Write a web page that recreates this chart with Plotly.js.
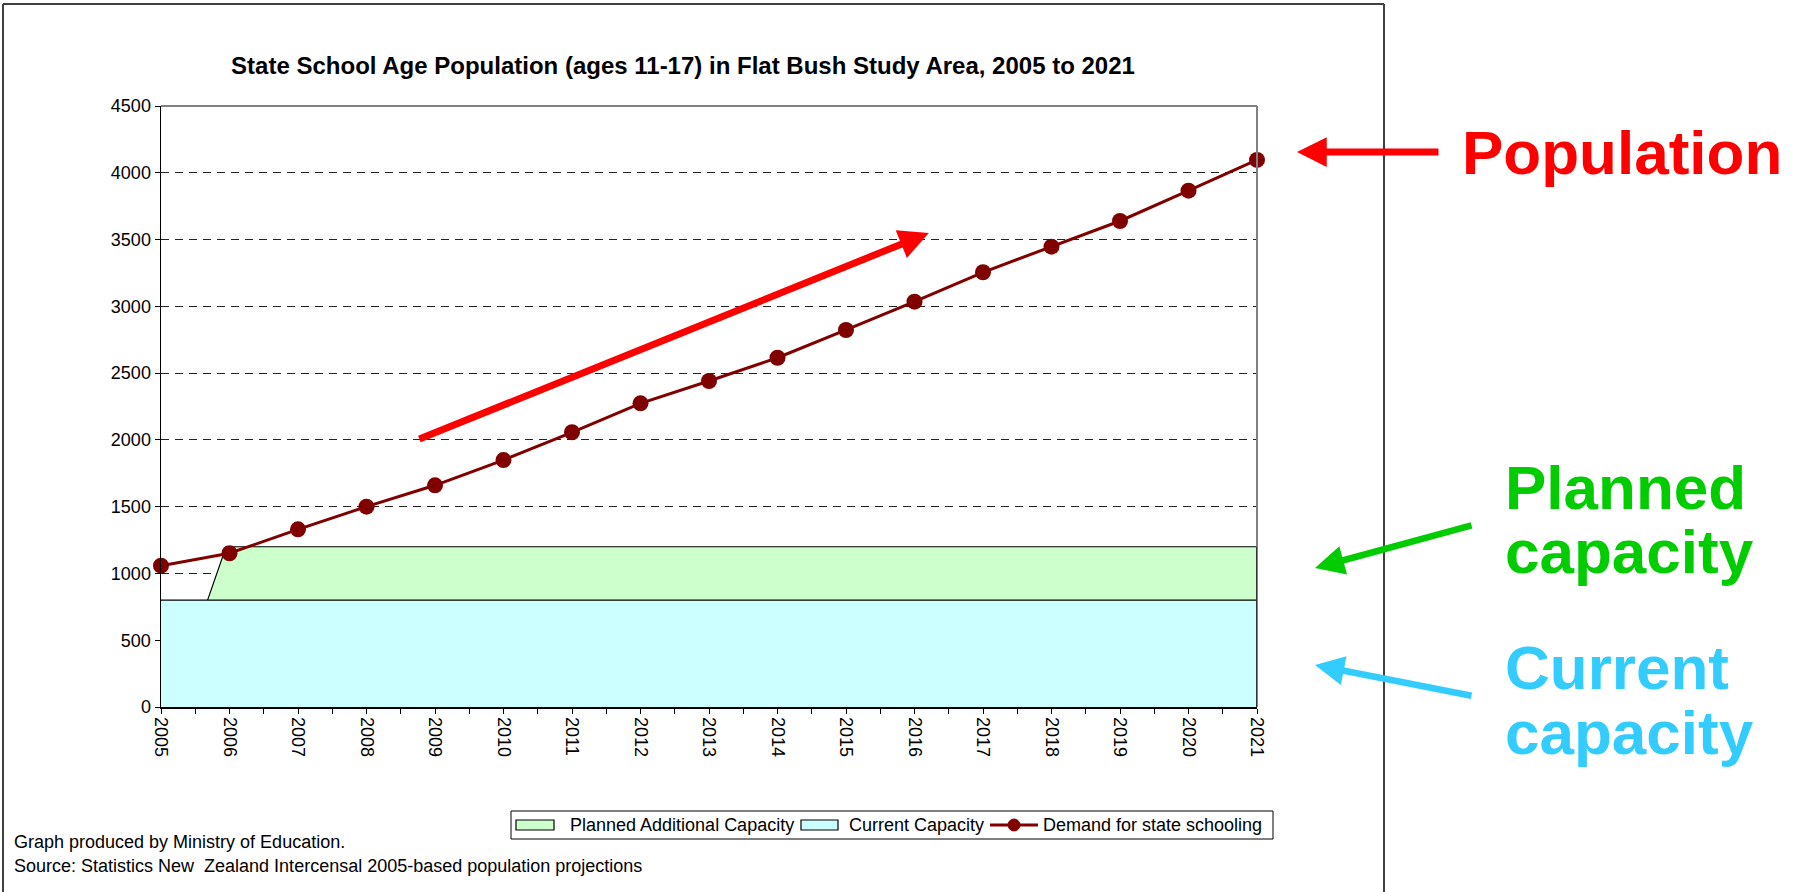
<!DOCTYPE html>
<html>
<head>
<meta charset="utf-8">
<script src="https://cdn.plot.ly/plotly-3.0.1.min.js"></script>
<style>
  html, body { margin: 0; padding: 0; background: #ffffff; }
  #chart { width: 1809px; height: 892px; }
</style>
</head>
<body>
<div id="chart"></div>
<script>
// ---- data ----
const years = [2005, 2006, 2007, 2008, 2009, 2010, 2011, 2012, 2013, 2014, 2015, 2016, 2017, 2018, 2019, 2020, 2021];
const demand = [1058, 1151, 1330, 1500, 1660, 1849, 2057, 2274, 2441, 2615, 2823, 3035, 3255, 3447, 3639, 3866, 4096];
const currentCapacity = [800, 800, 800, 800, 800, 800, 800, 800, 800, 800, 800, 800, 800, 800, 800, 800, 800];
const plannedX = [2005.68, 2005.95, 2021];
const plannedTotal = [800, 1200, 1200];
const trendArrowFrom = [2008.75, 2002];
const trendArrowTo = [2016.21, 3549];
const yTicks = [0, 500, 1000, 1500, 2000, 2500, 3000, 3500, 4000, 4500];

const titleText = 'State School Age Population (ages 11-17) in Flat Bush Study Area, 2005 to 2021';
const seriesNames = ['Planned Additional Capacity', 'Current Capacity', 'Demand for state schooling'];
const footnotes = ['Graph produced by Ministry of Education.',
                   'Source: Statistics New&nbsp; Zealand Intercensal 2005-based population projections'];

const FONT = 'Liberation Sans, Arial, Helvetica, sans-serif';
const COL_PLANNED = '#CCFFCC', COL_CURRENT = '#CCFFFF', COL_DEMAND = '#800000';

const traces = [
  {
    name: seriesNames[1], x: years, y: currentCapacity, type: 'scatter', mode: 'lines',
    fill: 'tozeroy', fillcolor: COL_CURRENT, line: {color: '#000000', width: 1.2},
    showlegend: false, cliponaxis: false
  },
  {
    name: seriesNames[0], x: plannedX, y: plannedTotal, type: 'scatter', mode: 'lines',
    fill: 'tonexty', fillcolor: COL_PLANNED, line: {color: '#000000', width: 1.2},
    showlegend: false, cliponaxis: false
  },
  {
    name: seriesNames[2], x: years, y: demand, type: 'scatter', mode: 'lines+markers',
    line: {color: COL_DEMAND, width: 3}, marker: {color: COL_DEMAND, size: 16},
    showlegend: false, cliponaxis: false
  }
];

// plot area in px: x 161..1257, y 106..707
const L = 161, R = 1257, T = 106, B = 707;
const px2x = (p) => (p - L) / (R - L);
const px2y = (p) => (B - p) / (B - T);

const P = (o) => Object.assign({xref: 'paper', yref: 'paper'}, o);

const shapes = [
  // plot-area border (top & right, gray)
  P({type: 'line', x0: 0, x1: 1, y0: 1, y1: 1, line: {color: '#808080', width: 2}}),
  P({type: 'line', x0: 1, x1: 1, y0: 0, y1: 1, line: {color: '#808080', width: 2}}),
  // right edge of the filled areas
  {type: 'line', xref: 'x', yref: 'y', x0: years[years.length - 1], x1: years[years.length - 1], y0: 0,
   y1: plannedTotal[plannedTotal.length - 1], line: {color: '#000000', width: 1.2}},
  // outer chart frame
  P({type: 'line', x0: px2x(3), x1: px2x(1384), y0: px2y(4), y1: px2y(4), line: {color: '#404040', width: 2}}),
  P({type: 'line', x0: px2x(3), x1: px2x(3), y0: px2y(4), y1: px2y(900), line: {color: '#404040', width: 2}}),
  P({type: 'line', x0: px2x(1384), x1: px2x(1384), y0: px2y(4), y1: px2y(900), line: {color: '#404040', width: 2}}),
  // legend box and symbols
  P({type: 'rect', x0: px2x(511), x1: px2x(1273), y0: px2y(839), y1: px2y(811), line: {color: '#000000', width: 1}, fillcolor: '#FFFFFF'}),
  P({type: 'rect', x0: px2x(516), x1: px2x(554), y0: px2y(830), y1: px2y(820), line: {color: '#000000', width: 1.2}, fillcolor: COL_PLANNED}),
  P({type: 'rect', x0: px2x(801), x1: px2x(838), y0: px2y(830), y1: px2y(820), line: {color: '#000000', width: 1.2}, fillcolor: COL_CURRENT}),
  P({type: 'line', x0: px2x(990), x1: px2x(1038), y0: px2y(825), y1: px2y(825), line: {color: COL_DEMAND, width: 3}}),
  P({type: 'circle', x0: px2x(1008), x1: px2x(1020), y0: px2y(831), y1: px2y(819), line: {color: COL_DEMAND, width: 1}, fillcolor: COL_DEMAND})
];

const bigFont = {family: FONT, size: 62, color: '#FF0000', weight: 'bold'};
const green = '#00CC00', blue = '#33CCFF';
const smallFont = {family: FONT, size: 18, color: '#000000'};

const annotations = [
  // trend arrow inside the plot
  {x: trendArrowTo[0], y: trendArrowTo[1], ax: trendArrowFrom[0], ay: trendArrowFrom[1],
   xref: 'x', yref: 'y', axref: 'x', ayref: 'y', text: '', showarrow: true,
   arrowcolor: '#FF0000', arrowwidth: 7, arrowhead: 2, arrowsize: 0.85, standoff: 0},
  // right-side callout arrows
  P({x: px2x(1297), y: px2y(152), ax: 143, ay: 0, text: '', showarrow: true,
   arrowcolor: '#FF0000', arrowwidth: 7, arrowhead: 2, arrowsize: 0.85, standoff: 0}),
  P({x: px2x(1315), y: px2y(568), ax: 158, ay: -43, text: '', showarrow: true,
   arrowcolor: green, arrowwidth: 6.5, arrowhead: 2, arrowsize: 0.9, standoff: 0}),
  P({x: px2x(1315), y: px2y(665), ax: 158, ay: 31, text: '', showarrow: true,
   arrowcolor: blue, arrowwidth: 6.5, arrowhead: 2, arrowsize: 0.9, standoff: 0}),
  // callout texts
  P({x: px2x(1460), y: px2y(152), text: 'Population', showarrow: false,
   xanchor: 'left', yanchor: 'middle', font: bigFont}),
  P({x: px2x(1503), y: px2y(487), text: 'Planned', showarrow: false, height: 50,
   xanchor: 'left', yanchor: 'middle', font: Object.assign({}, bigFont, {color: green})}),
  P({x: px2x(1503), y: px2y(551), text: 'capacity', showarrow: false,
   xanchor: 'left', yanchor: 'middle', font: Object.assign({}, bigFont, {color: green})}),
  P({x: px2x(1503), y: px2y(667), text: 'Current', showarrow: false, height: 50,
   xanchor: 'left', yanchor: 'middle', font: Object.assign({}, bigFont, {color: blue})}),
  P({x: px2x(1503), y: px2y(732), text: 'capacity', showarrow: false,
   xanchor: 'left', yanchor: 'middle', font: Object.assign({}, bigFont, {color: blue})}),
  // legend texts
  P({x: px2x(568), y: px2y(825), text: seriesNames[0], showarrow: false, xanchor: 'left', yanchor: 'middle', font: smallFont}),
  P({x: px2x(847), y: px2y(825), text: seriesNames[1], showarrow: false, xanchor: 'left', yanchor: 'middle', font: smallFont}),
  P({x: px2x(1041), y: px2y(825), text: seriesNames[2], showarrow: false, xanchor: 'left', yanchor: 'middle', font: smallFont}),
  // footnotes
  P({x: px2x(12), y: px2y(842), text: footnotes[0], showarrow: false,
   xanchor: 'left', yanchor: 'middle', font: smallFont}),
  P({x: px2x(12), y: px2y(866), text: footnotes[1], showarrow: false,
   xanchor: 'left', yanchor: 'middle', font: smallFont})
];

const layout = {
  width: 1809, height: 892,
  margin: {l: L, r: 1809 - R, t: T, b: 892 - B, pad: 0},
  paper_bgcolor: '#FFFFFF', plot_bgcolor: '#FFFFFF',
  font: {family: FONT, size: 18, color: '#000000'},
  title: {
    text: '<b>' + titleText + '</b>',
    font: {family: FONT, size: 24, color: '#000000'},
    xref: 'container', yref: 'container', x: 683 / 1809, xanchor: 'center',
    y: 1 - 66 / 892, yanchor: 'middle'
  },
  xaxis: {
    range: [years[0], years[years.length - 1]], tickmode: 'array', tickvals: years, ticktext: years.map(String),
    tickangle: 90, ticks: 'outside', ticklen: 5, tickcolor: '#000000', tickwidth: 1,
    minor: {dtick: 0.5, tick0: years[0], ticks: 'outside', ticklen: 5, tickcolor: '#000000', showgrid: false},
    showline: true, linecolor: '#000000', linewidth: 1.5, showgrid: false, zeroline: false,
    tickfont: {family: FONT, size: 18, color: '#000000'}, fixedrange: true
  },
  yaxis: {
    range: [0, 4500], tickmode: 'array', tickvals: yTicks, ticks: 'outside', ticklen: 5, tickcolor: '#000000',
    showline: true, linecolor: '#000000', linewidth: 1.5,
    showgrid: true, gridcolor: '#222222', gridwidth: 1, griddash: '8px,6px', zeroline: false,
    tickfont: {family: FONT, size: 18, color: '#000000'}, fixedrange: true
  },
  showlegend: false,
  shapes: shapes,
  annotations: annotations,
  hovermode: false
};

Plotly.newPlot('chart', traces, layout, {staticPlot: true, displayModeBar: false});
</script>
</body>
</html>
